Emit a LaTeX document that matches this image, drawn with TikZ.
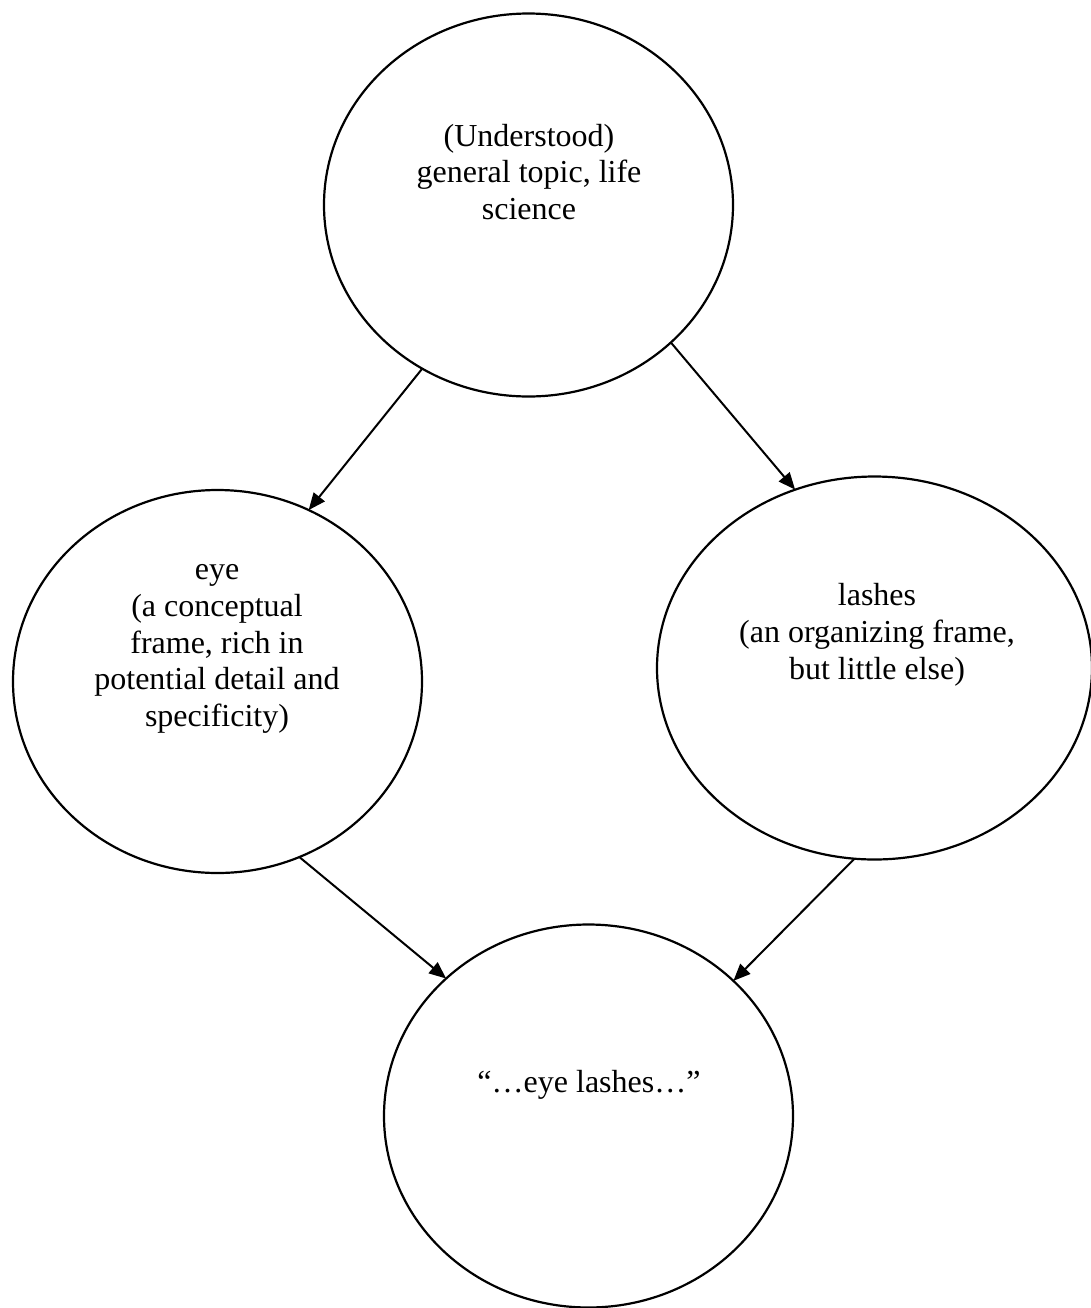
\documentclass[tikz,border=0pt]{standalone}
\usepackage{fontspec}
\setmainfont{Liberation Serif}
\usetikzlibrary{shapes.geometric,arrows.meta}

\begin{document}
\begin{tikzpicture}[x=0.5pt,y=-0.5pt,
  bubble/.style={ellipse,draw,line width=1.1pt,inner sep=0pt,outer sep=0pt,
                 minimum width=409pt*0.5,minimum height=383pt*0.5},
  wide/.style={minimum width=435pt*0.5},
  txt/.style={align=center,inner sep=0pt,font=\fontsize{16}{18.4}\selectfont},
  link/.style={line width=1pt,-{Triangle[length=8.5pt,width=7pt]}}]
  \useasboundingbox (0,0) rectangle (1091,1308);

  % the four ellipses
  \node[bubble] (topic) at (528.5,205) {};
  \node[bubble] (eye) at (217.5,681.5) {};
  \node[bubble,wide] (lashes) at (874.5,668) {};
  \node[bubble] (phrase) at (588.5,1116) {};

  % their texts, set a little above each centre
  \node[txt] (topicT) at (529,172) {(Understood)\\general topic, life\\science};
  \node[txt] (eyeT) at (217,649) {eye\\(a conceptual\\frame, rich in\\potential detail and\\specificity)};
  \node[txt] (lashesT) at (877,635) {lashes\\(an organizing frame,\\but little else)};
  \node[txt] (phraseT) at (589,1085) {“…eye lashes…”};

  % connectors
  \draw[link] (topic.-123.6) -- (eye.62.4);
  \draw[link] (topic.-44.1) -- (lashes.114.5);
  \draw[link] (eye.-65.1) -- (phrase.136.1);
  \draw[link] (lashes.-96.4) -- (phrase.43.5);
\end{tikzpicture}
\end{document}
